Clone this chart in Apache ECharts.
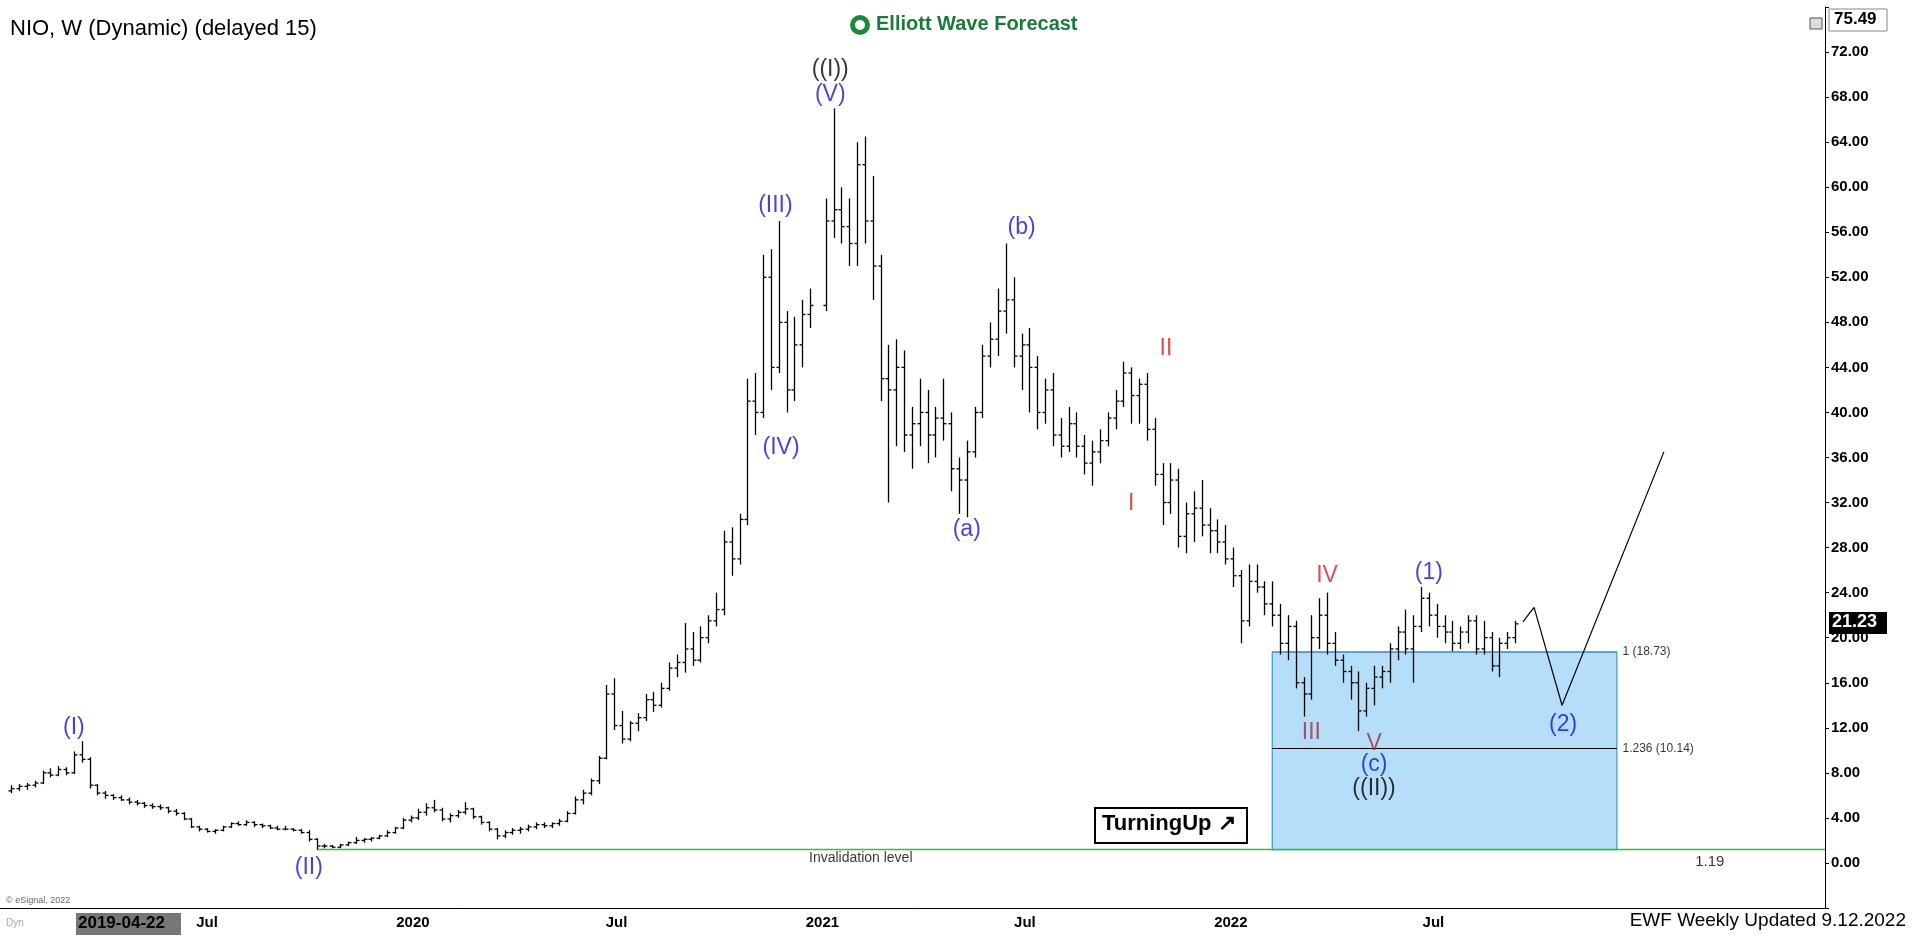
<!DOCTYPE html>
<html>
<head>
<meta charset="utf-8">
<script src="https://cdn.jsdelivr.net/npm/echarts@6/dist/echarts.min.js"></script>
<style>
  html, body { margin: 0; padding: 0; background: #fff; }
  #main { width: 1912px; height: 941px; }
</style>
</head>
<body>
<div id="main"></div>
<script>
// weekly bars [open, high, low, close], each year starting at its first Monday
const bars2019 = [
  [6.4, 6.9, 6.2, 6.6], [6.6, 7.0, 6.4, 6.8], [6.8, 7.1, 6.5, 6.9], [6.9, 7.3, 6.7, 7.1],
  [7.1, 8.2, 7.0, 8.0], [8.0, 8.4, 7.6, 7.8], [7.8, 8.6, 7.7, 8.3], [8.3, 8.5, 7.8, 8.0],
  [8.0, 9.9, 7.9, 9.6], [9.6, 10.8, 8.9, 9.2], [9.2, 9.4, 6.6, 6.9], [6.9, 7.0, 6.0, 6.2], [6.2, 6.4, 5.7, 6.0],
  [6.0, 6.1, 5.6, 5.8], [5.8, 6.0, 5.5, 5.6], [5.6, 5.8, 5.2, 5.4], [5.4, 5.6, 5.1, 5.3],
  [5.3, 5.4, 4.9, 5.1], [5.1, 5.3, 4.8, 5.0], [5.0, 5.2, 4.7, 4.9], [4.9, 5.0, 4.4, 4.6],
  [4.6, 4.8, 4.2, 4.4], [4.4, 4.5, 3.8, 3.9], [3.9, 4.0, 3.1, 3.2], [3.2, 3.3, 2.8, 3.0],
  [3.0, 3.1, 2.7, 2.8], [2.8, 3.0, 2.6, 2.9], [2.9, 3.3, 2.8, 3.2], [3.2, 3.6, 3.1, 3.5], [3.5, 3.7, 3.3, 3.4],
  [3.4, 3.8, 3.3, 3.6], [3.6, 3.7, 3.2, 3.4], [3.4, 3.5, 3.1, 3.3], [3.3, 3.4, 3.0, 3.1], [3.1, 3.3, 2.9, 3.0],
  [3.0, 3.3, 2.9, 3.0], [3.0, 3.1, 2.8, 2.9], [2.9, 3.0, 2.6, 2.7], [2.7, 2.9, 1.9, 2.1],
  [2.1, 2.2, 1.2, 1.5], [1.5, 1.7, 1.3, 1.5], [1.5, 1.6, 1.3, 1.4], [1.4, 1.7, 1.3, 1.6],
  [1.6, 1.9, 1.5, 1.8], [1.8, 2.3, 1.7, 2.0], [2.0, 2.2, 1.8, 2.1], [2.1, 2.3, 1.9, 2.2],
  [2.2, 2.5, 2.1, 2.4], [2.4, 2.9, 2.3, 2.7], [2.7, 3.2, 2.6, 3.1], [3.1, 4.0, 3.0, 3.8], [3.8, 4.2, 3.6, 4.0]
];
const bars2020 = [
  [4.0, 4.8, 3.8, 4.5], [4.5, 5.3, 4.2, 4.9], [4.9, 5.6, 4.5, 4.7], [4.7, 4.9, 3.7, 3.9],
  [3.9, 4.4, 3.6, 4.2], [4.2, 4.7, 4.0, 4.5], [4.5, 5.4, 4.3, 4.8], [4.8, 4.9, 3.9, 4.1],
  [4.1, 4.2, 3.4, 3.6], [3.6, 3.7, 2.8, 3.0], [3.0, 3.1, 2.1, 2.4], [2.4, 2.9, 2.2, 2.7],
  [2.7, 3.1, 2.5, 2.9], [2.9, 3.2, 2.6, 3.0], [3.0, 3.4, 2.8, 3.2], [3.2, 3.6, 3.0, 3.4],
  [3.4, 3.6, 3.1, 3.3], [3.3, 3.6, 3.1, 3.5], [3.5, 3.9, 3.3, 3.7], [3.7, 4.6, 3.6, 4.4],
  [4.4, 5.9, 4.3, 5.6], [5.6, 6.5, 5.2, 6.2], [6.2, 7.5, 6.0, 7.3], [7.3, 9.5, 7.0, 9.3],
  [9.3, 15.8, 9.2, 15.0], [15.0, 16.4, 11.8, 12.2], [12.2, 13.5, 10.6, 11.0], [11.0, 12.6, 10.8, 12.4], [12.4, 13.3, 11.7, 12.9],
  [12.9, 15.0, 12.6, 14.5], [14.5, 15.2, 13.4, 14.0], [14.0, 16.0, 13.8, 15.5], [15.5, 17.8, 15.3, 17.3], [17.3, 18.5, 16.5, 17.8],
  [17.8, 21.3, 16.9, 19.0], [19.0, 20.5, 17.5, 18.0], [18.0, 21.0, 17.8, 20.0], [20.0, 22.0, 19.5, 21.5],
  [21.5, 24.0, 21.0, 22.5], [22.5, 29.5, 22.0, 28.5], [28.5, 29.8, 25.5, 27.0], [27.0, 31.0, 26.5, 30.5],
  [30.5, 43.0, 30.0, 41.0], [41.0, 43.5, 38.0, 40.0], [40.0, 54.0, 39.5, 52.0], [52.0, 54.5, 42.0, 44.0],
  [44.0, 57.0, 43.5, 48.0], [48.0, 49.0, 40.0, 42.0], [42.0, 48.5, 41.0, 46.0], [46.0, 50.0, 44.0, 48.7], [48.7, 51.0, 47.5, 49.5]
];
const bars2021 = [
  [49.5, 59.0, 49.0, 57.0], [57.0, 67.0, 55.5, 58.0], [58.0, 60.0, 55.0, 56.5], [56.5, 59.0, 53.0, 55.0],
  [55.0, 64.0, 53.0, 62.0], [62.0, 64.5, 55.0, 57.0], [57.0, 61.0, 50.0, 53.0], [53.0, 54.0, 41.0, 43.0],
  [43.0, 46.0, 32.0, 42.0], [42.0, 46.5, 37.0, 44.0], [44.0, 45.5, 36.5, 38.0], [38.0, 40.5, 35.0, 39.0],
  [39.0, 43.0, 37.0, 40.0], [40.0, 42.0, 35.5, 38.0], [38.0, 40.5, 36.0, 39.5], [39.5, 43.0, 37.5, 39.0],
  [39.0, 40.0, 33.0, 35.0], [35.0, 36.0, 31.0, 34.0], [34.0, 37.5, 30.7, 36.5], [36.5, 40.5, 36.0, 40.0],
  [40.0, 46.0, 39.5, 45.0], [45.0, 48.0, 44.0, 46.5], [46.5, 51.0, 45.0, 49.0], [49.0, 55.0, 47.0, 50.0],
  [50.0, 52.0, 44.0, 45.0], [45.0, 47.0, 42.0, 46.0], [46.0, 47.5, 40.0, 44.0], [44.0, 45.0, 38.5, 40.0],
  [40.0, 43.0, 39.0, 42.0], [42.0, 43.5, 37.0, 38.0], [38.0, 39.5, 36.0, 37.0], [37.0, 40.5, 36.5, 39.0],
  [39.0, 40.0, 36.0, 37.0], [37.0, 38.0, 34.5, 35.5], [35.5, 37.5, 33.5, 36.5], [36.5, 38.5, 35.5, 37.5],
  [37.5, 40.0, 37.0, 39.5], [39.5, 42.0, 38.5, 41.0], [41.0, 44.5, 40.5, 43.5], [43.5, 44.0, 39.0, 41.5],
  [41.5, 43.0, 39.0, 42.5], [42.5, 43.5, 37.5, 38.5], [38.5, 39.5, 33.5, 34.5], [34.5, 35.5, 30.0, 32.0],
  [32.0, 35.5, 31.0, 34.0], [34.0, 35.0, 28.0, 29.0], [29.0, 32.0, 27.5, 31.0], [31.0, 33.0, 28.5, 31.5],
  [31.5, 34.0, 29.0, 30.0], [30.0, 31.5, 27.5, 29.5], [29.5, 30.5, 27.5, 28.5], [28.5, 30.0, 26.5, 27.0]
];
const bars2022 = [
  [27.0, 28.0, 24.5, 25.5], [25.5, 26.0, 19.5, 21.5], [21.5, 26.5, 21.0, 25.0], [25.0, 26.5, 24.0, 24.5],
  [24.5, 25.0, 22.0, 23.0], [23.0, 25.0, 21.0, 22.0], [22.0, 23.0, 18.5, 19.5], [19.5, 22.0, 18.0, 21.0],
  [21.0, 21.5, 15.5, 16.0], [16.0, 16.5, 13.0, 15.0], [15.0, 22.0, 14.5, 20.0], [20.0, 23.5, 19.0, 22.0],
  [22.0, 24.0, 18.5, 19.5], [19.5, 20.5, 17.5, 18.0], [18.0, 18.5, 16.0, 17.0], [17.0, 17.5, 14.5, 16.0],
  [16.0, 17.0, 11.7, 13.5], [13.5, 16.0, 13.0, 15.5], [15.5, 17.5, 14.0, 16.5], [16.5, 17.5, 15.5, 17.0],
  [17.0, 19.5, 16.0, 19.0], [19.0, 21.0, 18.0, 20.5], [20.5, 22.5, 18.5, 19.0], [19.0, 22.0, 16.0, 21.0],
  [21.0, 24.5, 20.5, 23.5], [23.5, 24.0, 21.0, 22.0], [22.0, 23.0, 20.0, 21.0], [21.0, 22.0, 19.5, 20.5],
  [20.5, 21.5, 18.8, 19.5], [19.5, 21.0, 19.0, 20.5], [20.5, 22.0, 19.5, 21.5], [21.5, 22.0, 18.5, 19.0],
  [19.0, 21.5, 18.5, 20.0], [20.0, 20.5, 17.0, 17.5], [17.5, 20.0, 16.5, 19.5], [19.5, 20.5, 19.0, 20.0],
  [20.0, 21.5, 19.5, 21.23]
];
const yearStarts = ['2019-01-07', '2020-01-06', '2021-01-04', '2022-01-03'];

// projected path
const projDates = ['2022-09-19', '2022-09-29', '2022-10-24', '2023-01-23'];
const projValues = [21.4, 22.7, 14.0, 36.5];

// fib box
const boxStart = '2022-02-07';
const boxEnd = '2022-12-12';
const fibTop = 18.73;
const fib1236 = 10.14;
const invalidation = 1.19;
const invalidStart = '2019-10-07';

// wave labels
const waveTexts = ['(I)', '(II)', '(III)', '(IV)', '(V)', '((I))', '(a)', '(b)', 'I', 'II', 'III', 'IV', 'V', '(c)', '((II))', '(1)', '(2)'];
const waveDates = ['2019-03-04', '2019-09-30', '2020-11-20', '2020-11-25', '2021-01-08', '2021-01-08', '2021-05-10', '2021-06-28',
  '2021-10-04', '2021-11-04', '2022-03-14', '2022-03-28', '2022-05-09', '2022-05-09', '2022-05-09', '2022-06-27', '2022-10-25'];
const waveValues = [12.0, -0.4, 58.4, 36.9, 68.2, 70.4, 29.6, 56.4, 31.9, 45.7, 11.6, 25.5, 10.6, 8.7, 6.6, 25.8, 12.3];
const waveColors = ['#1515c8', '#1515c8', '#1515c8', '#1515c8', '#1515c8', '#000', '#1515c8', '#1515c8',
  '#d42020', '#d42020', '#a0303c', '#d42020', '#a0303c', '#1515c8', '#000', '#1515c8', '#1515c8'];

const WEEK = 7 * 24 * 3600 * 1000;
const barData = [];
[bars2019, bars2020, bars2021, bars2022].forEach((list, y) => {
  const t0 = +new Date(yearStarts[y] + 'T00:00:00Z');
  list.forEach((b, i) => barData.push([t0 + i * WEEK, b[0], b[1], b[2], b[3]]));
});

const chart = echarts.init(document.getElementById('main'));
const FONT = 'Liberation Sans';

function renderBar(params, api) {
  const x = api.value(0);
  const o = api.coord([x, api.value(1)]);
  const h = api.coord([x, api.value(2)]);
  const l = api.coord([x, api.value(3)]);
  const c = api.coord([x, api.value(4)]);
  const st = { stroke: '#000', lineWidth: 1.3 };
  const px = Math.round(h[0]) + 0.5;
  return {
    type: 'group',
    children: [
      { type: 'line', shape: { x1: px, y1: h[1], x2: px, y2: l[1] }, style: st },
      { type: 'line', shape: { x1: px - 3, y1: o[1], x2: px, y2: o[1] }, style: st },
      { type: 'line', shape: { x1: px, y1: c[1], x2: px + 3, y2: c[1] }, style: st }
    ]
  };
}

chart.setOption({
  animation: false,
  backgroundColor: '#fff',
  grid: { left: 0, right: 87, top: 7, bottom: 33 },
  xAxis: {
    type: 'time',
    min: '2018-12-28',
    max: '2023-06-16',
    minInterval: 28 * 24 * 3600 * 1000,
    maxInterval: 31 * 24 * 3600 * 1000,
    axisLine: { onZero: false, lineStyle: { color: '#000' } },
    axisTick: { show: false },
    splitLine: { show: false },
    axisLabel: {
      fontFamily: FONT, fontSize: 15, fontWeight: 'bold', color: '#000', margin: 7,
      formatter: function (v) {
        const d = new Date(v);
        const y = d.getUTCFullYear();
        if (d.getUTCDate() !== 1 || y < 2019 || y > 2022) return '';
        if (d.getUTCMonth() === 0 && y > 2019) return String(y);
        if (d.getUTCMonth() === 6) return 'Jul';
        return '';
      }
    }
  },
  yAxis: {
    type: 'value',
    position: 'right',
    min: -4, max: 76, interval: 4,
    axisLine: { show: true, lineStyle: { color: '#000' } },
    axisTick: { show: true, length: 4, lineStyle: { color: '#000' } },
    splitLine: { show: false },
    axisLabel: {
      fontFamily: FONT, fontSize: 15, fontWeight: 'bold', color: '#000', margin: 6,
      formatter: v => (v < 0 || v > 72) ? '' : v.toFixed(2)
    }
  },
  series: [
    {
      type: 'line',
      data: [[boxStart, fibTop], [boxEnd, fibTop]],
      symbol: 'none',
      lineStyle: { color: '#3a7fb0', width: 1.2 },
      z: 1,
      markArea: {
        silent: true,
        itemStyle: { color: '#b5defa', borderColor: '#3a9ccc', borderWidth: 1.2 },
        data: [[{ coord: [boxStart, fibTop] }, { coord: [boxEnd, invalidation] }]]
      },
      markLine: {
        silent: true, symbol: 'none',
        lineStyle: { color: '#000', width: 1.2, type: 'solid' },
        label: { show: false },
        data: [[{ coord: [boxStart, fib1236] }, { coord: [boxEnd, fib1236] }]]
      }
    },
    {
      type: 'line',
      data: [[invalidStart, invalidation], ['2023-06-16', invalidation]],
      symbol: 'none',
      lineStyle: { color: '#22cc22', width: 1.5 },
      z: 2
    },
    {
      type: 'custom',
      renderItem: renderBar,
      data: barData,
      encode: { x: 0, y: [1, 2, 3, 4] },
      z: 5
    },
    {
      type: 'line',
      data: projDates.map((d, i) => [d, projValues[i]]),
      symbol: 'none',
      lineStyle: { color: '#000', width: 1.2 },
      z: 4
    },
    {
      type: 'scatter',
      symbolSize: 0,
      z: 6,
      data: waveTexts.map((t, i) => ({
        value: [waveDates[i], waveValues[i]],
        label: {
          show: true, position: 'inside', formatter: t,
          color: waveColors[i], fontFamily: FONT, fontSize: 23
        }
      }))
    },
    {
      type: 'scatter',
      symbolSize: 0,
      z: 6,
      data: [
        { value: ['2022-12-17', fibTop], label: { formatter: '1 (18.73)' } },
        { value: ['2022-12-17', fib1236], label: { formatter: '1.236 (10.14)' } },
        { value: ['2023-02-20', 0.1], label: { formatter: '1.19', fontSize: 15 } },
        { value: ['2020-12-20', 0.4], label: { formatter: 'Invalidation level', fontSize: 14 } }
      ],
      label: { show: true, position: 'right', distance: 0, align: 'left', color: '#000', fontFamily: FONT, fontSize: 12 }
    }
  ],
  graphic: [
    { type: 'text', left: 10, top: 18, style: { text: 'NIO, W (Dynamic) (delayed 15)', font: '22px "Liberation Sans"', fill: '#000' } },
    { type: 'circle', shape: { cx: 860, cy: 25, r: 10 }, style: { fill: '#1a8a3a' } },
    { type: 'circle', shape: { cx: 860, cy: 25, r: 5 }, style: { fill: '#fff' } },
    { type: 'text', left: 876, top: 14, style: { text: 'Elliott Wave Forecast', font: 'bold 20px "Liberation Sans"', fill: '#1a7a3a' } },
    { type: 'rect', shape: { x: 1095, y: 808, width: 152, height: 35 }, style: { fill: '#fff', stroke: '#000', lineWidth: 2 } },
    { type: 'text', left: 1102, top: 813, style: { text: 'TurningUp ↗', font: 'bold 22px "Liberation Sans"', fill: '#000' } },
    { type: 'rect', shape: { x: 76, y: 913, width: 105, height: 22 }, style: { fill: '#777' } },
    { type: 'text', left: 78, top: 915, style: { text: '2019-04-22', font: 'bold 17px "Liberation Sans"', fill: '#000' } },
    { type: 'text', left: 6, top: 896, style: { text: '© eSignal, 2022', font: '9px "Liberation Sans"', fill: '#666' } },
    { type: 'text', left: 6, top: 918, style: { text: 'Dyn', font: '10px "Liberation Sans"', fill: '#aaa' } },
    { type: 'text', right: 6, top: 911, style: { text: 'EWF Weekly Updated 9.12.2022', font: '19px "Liberation Sans"', fill: '#000' } },
    { type: 'rect', shape: { x: 1829, y: 612, width: 58, height: 22 }, style: { fill: '#000' } },
    { type: 'text', left: 1832, top: 613, style: { text: '21.23', font: 'bold 18px "Liberation Sans"', fill: '#fff' } },
    { type: 'rect', shape: { x: 1829, y: 9, width: 58, height: 22 }, style: { fill: '#fff', stroke: '#888' } },
    { type: 'text', left: 1834, top: 11, style: { text: '75.49', font: 'bold 17px "Liberation Sans"', fill: '#000' } },
    { type: 'rect', shape: { x: 1810, y: 18, width: 12, height: 11 }, style: { fill: '#ddd', stroke: '#555' } }
  ]
});
</script>
</body>
</html>
